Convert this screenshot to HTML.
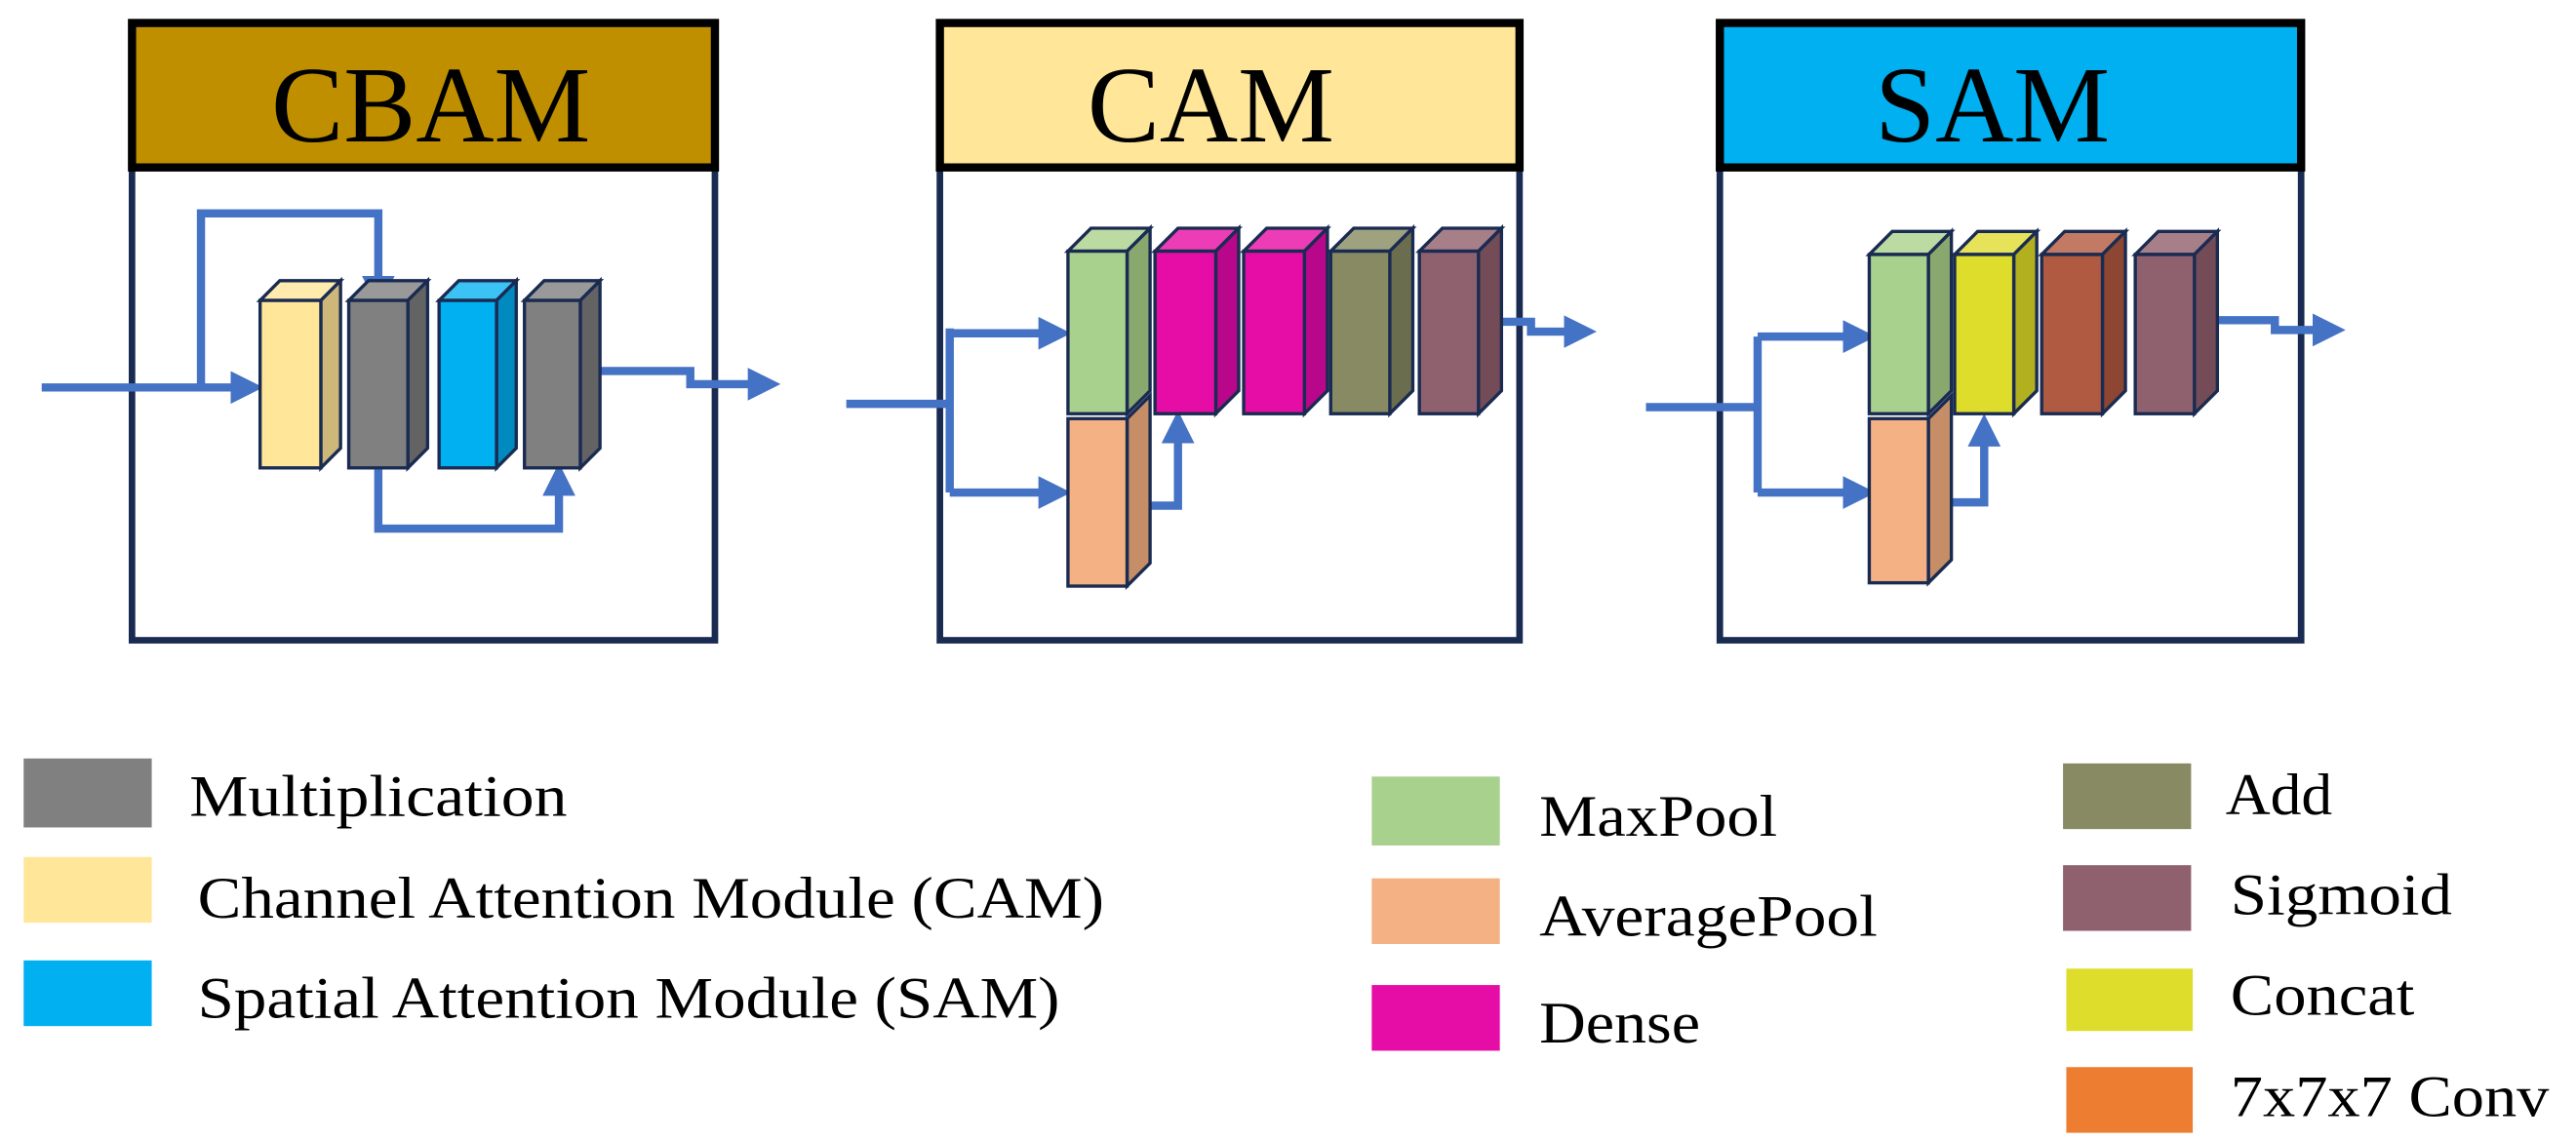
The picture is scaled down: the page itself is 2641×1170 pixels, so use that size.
<!DOCTYPE html>
<html><head><meta charset="utf-8"><style>
html,body{margin:0;padding:0;background:#fff;}
svg{display:block;}
</style></head><body>
<svg width="2641" height="1170" viewBox="0 0 1568 695" xmlns="http://www.w3.org/2000/svg" font-family="'Liberation Serif', serif">
<defs>
<marker id="ah" markerWidth="4" markerHeight="4" refX="2" refY="2" orient="auto" markerUnits="strokeWidth">
<path d="M0,0 L4,2 L0,4 Z" fill="#4472C4"/></marker>
</defs>
<g stroke-width="4">
<rect x="80" y="100" width="355" height="290" fill="#fff" stroke="#1a2b52"/>
<rect x="80" y="14" width="355" height="88" fill="#BF8F00" stroke="#000" stroke-width="5"/>
<rect x="572" y="100" width="353" height="290" fill="#fff" stroke="#1a2b52"/>
<rect x="572" y="14" width="353" height="88" fill="#FFE699" stroke="#000" stroke-width="5"/>
<rect x="1047" y="100" width="354" height="290" fill="#fff" stroke="#1a2b52"/>
<rect x="1047" y="14" width="354" height="88" fill="#00B0F0" stroke="#000" stroke-width="5"/>
</g>
<g font-family="'Liberation Serif', serif" fill="#000">
<text x="262" y="86" font-size="66" text-anchor="middle">CBAM</text>
<text x="737" y="86" font-size="66" text-anchor="middle">CAM</text>
<text x="1213" y="86" font-size="66" text-anchor="middle">SAM</text>
</g>

<g fill="none" stroke="#4472C4" stroke-width="5">
<path d="M25,236 L150,236" marker-end="url(#ah)"/>
<path d="M122,236 V130 H230 V178" marker-end="url(#ah)"/>
<path d="M230,286 V322 H340 V292" marker-end="url(#ah)"/>
<path d="M356,226 H420 V234 H465" marker-end="url(#ah)"/>

<path d="M515,246 H578"/>
<path d="M578,200 V300"/>
<path d="M578,203 H642" marker-end="url(#ah)"/>
<path d="M578,300 H642" marker-end="url(#ah)"/>
<path d="M686,308 H717 V260" marker-end="url(#ah)"/>
<path d="M914,196 H932 V202 H962" marker-end="url(#ah)"/>

<path d="M1002,248 H1070"/>
<path d="M1070,205 V300"/>
<path d="M1070,205 H1132" marker-end="url(#ah)"/>
<path d="M1070,300 H1132" marker-end="url(#ah)"/>
<path d="M1174,306 H1208 V262" marker-end="url(#ah)"/>
<path d="M1350,195 H1385 V201 H1418" marker-end="url(#ah)"/>
</g>

<g stroke="#1a2b52" stroke-width="2" stroke-linejoin="miter">
<polygon points="158,183 170,171 207,171 195,183" fill="#FFEBAE"/><polygon points="195,183 207,171 207,273 195,285" fill="#CDB87A"/><rect x="158" y="183" width="37" height="102" fill="#FFE699"/>
<polygon points="212,183 224,171 260,171 248,183" fill="#999"/><polygon points="248,183 260,171 260,273 248,285" fill="#636363"/><rect x="212" y="183" width="36" height="102" fill="#808080"/>
<polygon points="267,183 279,171 314,171 302,183" fill="#3CC3F5"/><polygon points="302,183 314,171 314,273 302,285" fill="#008AC0"/><rect x="267" y="183" width="35" height="102" fill="#00B0F0"/>
<polygon points="319,183 331,171 365,171 353,183" fill="#999"/><polygon points="353,183 365,171 365,273 353,285" fill="#636363"/><rect x="319" y="183" width="34" height="102" fill="#808080"/>

<polygon points="650,153 664,139 700,139 686,153" fill="#BBDBA3"/><polygon points="686,153 700,139 700,238 686,252" fill="#88A86E"/><rect x="650" y="153" width="36" height="99" fill="#A9D18E"/>
<polygon points="686,255 700,241 700,343 686,357" fill="#C58E67"/><rect x="650" y="255" width="36" height="102" fill="#F4B183"/>
<polygon points="703,153 717,139 754,139 740,153" fill="#EC3CB6"/><polygon points="740,153 754,139 754,238 740,252" fill="#B8078A"/><rect x="703" y="153" width="37" height="99" fill="#E60CA6"/>
<polygon points="757,153 771,139 808,139 794,153" fill="#EC3CB6"/><polygon points="794,153 808,139 808,238 794,252" fill="#B8078A"/><rect x="757" y="153" width="37" height="99" fill="#E60CA6"/>
<polygon points="810,153 824,139 860,139 846,153" fill="#9FA27F"/><polygon points="846,153 860,139 860,238 846,252" fill="#6B6E4E"/><rect x="810" y="153" width="36" height="99" fill="#878A62"/>
<polygon points="864,153 878,139 914,139 900,153" fill="#A67F89"/><polygon points="900,153 914,139 914,238 900,252" fill="#744C57"/><rect x="864" y="153" width="36" height="99" fill="#8F616F"/>

<polygon points="1138,155 1152,141 1188,141 1174,155" fill="#BBDBA3"/><polygon points="1174,155 1188,141 1188,238 1174,252" fill="#88A86E"/><rect x="1138" y="155" width="36" height="97" fill="#A9D18E"/>
<polygon points="1174,255 1188,241 1188,341 1174,355" fill="#C58E67"/><rect x="1138" y="255" width="36" height="100" fill="#F4B183"/>
<polygon points="1190,155 1204,141 1240,141 1226,155" fill="#E6E35A"/><polygon points="1226,155 1240,141 1240,238 1226,252" fill="#B3B020"/><rect x="1190" y="155" width="36" height="97" fill="#DFDD2C"/>
<polygon points="1243,155 1257,141 1294,141 1280,155" fill="#C27A64"/><polygon points="1280,155 1294,141 1294,238 1280,252" fill="#8C4632"/><rect x="1243" y="155" width="37" height="97" fill="#AF5A41"/>
<polygon points="1300,155 1314,141 1350,141 1336,155" fill="#A67F89"/><polygon points="1336,155 1350,141 1350,238 1336,252" fill="#744C57"/><rect x="1300" y="155" width="36" height="97" fill="#8F616F"/>
</g>

<rect x="14" y="462" width="78" height="42" fill="#808080"/>
<rect x="14" y="522" width="78" height="40" fill="#FFE699"/>
<rect x="14" y="585" width="78" height="40" fill="#00B0F0"/>
<rect x="835" y="473" width="78" height="42" fill="#A9D18E"/>
<rect x="835" y="535" width="78" height="40" fill="#F4B183"/>
<rect x="835" y="600" width="78" height="40" fill="#E60CA6"/>
<rect x="1256" y="465" width="78" height="40" fill="#878A62"/>
<rect x="1256" y="527" width="78" height="40" fill="#8F616F"/>
<rect x="1258" y="590" width="77" height="38" fill="#DFDD2C"/>
<rect x="1258" y="650" width="77" height="40" fill="#ED7D31"/>
<g font-family="'Liberation Serif', serif" font-size="36" fill="#000" lengthAdjust="spacingAndGlyphs">
<text x="115" y="497" textLength="230" lengthAdjust="spacingAndGlyphs">Multiplication</text>
<text x="120" y="559" textLength="552" lengthAdjust="spacingAndGlyphs">Channel Attention Module (CAM)</text>
<text x="120" y="620" textLength="525" lengthAdjust="spacingAndGlyphs">Spatial Attention Module (SAM)</text>
<text x="937" y="509" textLength="145" lengthAdjust="spacingAndGlyphs">MaxPool</text>
<text x="937" y="570" textLength="206" lengthAdjust="spacingAndGlyphs">AveragePool</text>
<text x="937" y="635" textLength="98" lengthAdjust="spacingAndGlyphs">Dense</text>
<text x="1355" y="496" textLength="65" lengthAdjust="spacingAndGlyphs">Add</text>
<text x="1358" y="557" textLength="135" lengthAdjust="spacingAndGlyphs">Sigmoid</text>
<text x="1358" y="618" textLength="112" lengthAdjust="spacingAndGlyphs">Concat</text>
<text x="1358" y="680" textLength="194" lengthAdjust="spacingAndGlyphs">7x7x7 Conv</text>
</g>
</svg>
</body></html>
